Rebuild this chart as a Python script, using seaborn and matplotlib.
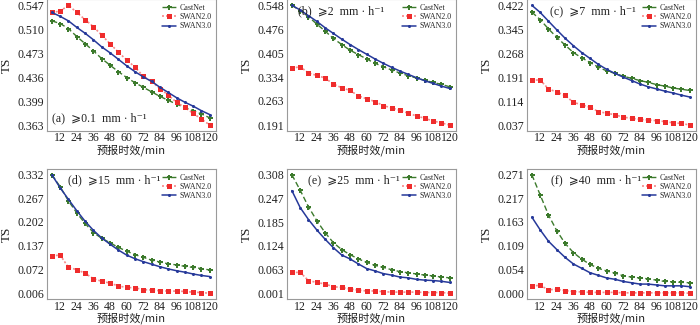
import numpy as np
import pandas as pd
import matplotlib
matplotlib.use("Agg")
import matplotlib.pyplot as plt
import seaborn as sns

# Lead times (min)
lead_time = [6, 12, 18, 24, 30, 36, 42, 48, 54, 60, 66, 72, 78, 84, 90, 96, 102, 108, 114, 120]
x_ticks = [12, 24, 36, 48, 60, 72, 84, 96, 108, 120]

models = ["CastNet", "SWAN2.0", "SWAN3.0"]

# TS scores per threshold
castnet_01 = [0.523, 0.519, 0.511, 0.499, 0.488, 0.477, 0.465, 0.455, 0.445, 0.436,
              0.428, 0.421, 0.414, 0.407, 0.401, 0.395, 0.390, 0.385, 0.380, 0.374]
swan2_01 = [0.536, 0.538, 0.547, 0.536, 0.525, 0.514, 0.501, 0.488, 0.475, 0.463,
            0.452, 0.438, 0.430, 0.419, 0.409, 0.398, 0.390, 0.381, 0.372, 0.363]
swan3_01 = [0.536, 0.530, 0.523, 0.513, 0.504, 0.494, 0.483, 0.474, 0.464, 0.454,
            0.445, 0.437, 0.430, 0.421, 0.413, 0.405, 0.398, 0.392, 0.385, 0.379]

castnet_2 = [0.548, 0.532, 0.514, 0.492, 0.471, 0.449, 0.431, 0.414, 0.401, 0.388,
             0.375, 0.365, 0.355, 0.346, 0.338, 0.331, 0.324, 0.318, 0.312, 0.305]
swan2_2 = [0.360, 0.365, 0.346, 0.339, 0.331, 0.313, 0.302, 0.294, 0.278, 0.269,
           0.261, 0.249, 0.242, 0.235, 0.226, 0.218, 0.211, 0.203, 0.197, 0.191]
swan3_2 = [0.548, 0.534, 0.517, 0.500, 0.481, 0.464, 0.447, 0.431, 0.416, 0.402,
           0.388, 0.375, 0.363, 0.352, 0.342, 0.332, 0.323, 0.315, 0.307, 0.300]

castnet_7 = [0.400, 0.376, 0.346, 0.319, 0.294, 0.270, 0.253, 0.238, 0.223, 0.211,
             0.203, 0.194, 0.187, 0.180, 0.174, 0.167, 0.162, 0.156, 0.152, 0.148]
swan2_7 = [0.181, 0.182, 0.153, 0.143, 0.132, 0.110, 0.102, 0.094, 0.080, 0.075,
           0.070, 0.062, 0.059, 0.055, 0.053, 0.051, 0.048, 0.044, 0.042, 0.037]
swan3_7 = [0.422, 0.399, 0.371, 0.343, 0.316, 0.292, 0.270, 0.251, 0.232, 0.216,
           0.203, 0.191, 0.180, 0.169, 0.160, 0.153, 0.146, 0.140, 0.133, 0.127]

castnet_15 = [0.332, 0.299, 0.260, 0.227, 0.198, 0.173, 0.157, 0.145, 0.132, 0.122,
              0.112, 0.105, 0.097, 0.092, 0.087, 0.084, 0.080, 0.077, 0.074, 0.070]
swan2_15 = [0.109, 0.111, 0.077, 0.071, 0.061, 0.046, 0.039, 0.034, 0.026, 0.022,
            0.021, 0.016, 0.015, 0.013, 0.012, 0.012, 0.011, 0.009, 0.008, 0.006]
swan3_15 = [0.332, 0.296, 0.264, 0.233, 0.204, 0.179, 0.158, 0.141, 0.125, 0.111,
            0.101, 0.093, 0.086, 0.079, 0.073, 0.068, 0.064, 0.059, 0.055, 0.052]

castnet_25 = [0.308, 0.268, 0.225, 0.189, 0.158, 0.132, 0.114, 0.101, 0.090, 0.081,
              0.073, 0.068, 0.062, 0.057, 0.054, 0.051, 0.048, 0.046, 0.043, 0.041]
swan2_25 = [0.055, 0.055, 0.034, 0.029, 0.025, 0.018, 0.016, 0.012, 0.009, 0.007,
            0.007, 0.005, 0.004, 0.004, 0.004, 0.004, 0.003, 0.003, 0.003, 0.001]
swan3_25 = [0.267, 0.223, 0.192, 0.165, 0.141, 0.119, 0.100, 0.090, 0.077, 0.065,
            0.059, 0.052, 0.048, 0.043, 0.041, 0.037, 0.035, 0.034, 0.032, 0.029]

castnet_40 = [0.271, 0.225, 0.179, 0.143, 0.114, 0.093, 0.078, 0.066, 0.057, 0.051,
              0.046, 0.040, 0.037, 0.035, 0.033, 0.030, 0.027, 0.026, 0.025, 0.024]
swan2_40 = [0.017, 0.018, 0.008, 0.009, 0.006, 0.004, 0.003, 0.002, 0.002, 0.002,
            0.002, 0.001, 0.001, 0.001, 0.001, 0.001, 0.001, 0.001, 0.001, 0.000]
swan3_40 = [0.174, 0.145, 0.119, 0.100, 0.082, 0.067, 0.057, 0.047, 0.041, 0.035,
            0.032, 0.027, 0.024, 0.021, 0.021, 0.019, 0.017, 0.017, 0.017, 0.015]

# Y tick labels per panel
yticks_01 = [0.363, 0.399, 0.436, 0.473, 0.510, 0.547]
yticks_2 = [0.191, 0.263, 0.334, 0.405, 0.476, 0.548]
yticks_7 = [0.037, 0.114, 0.191, 0.268, 0.345, 0.422]
yticks_15 = [0.006, 0.072, 0.137, 0.202, 0.267, 0.332]
yticks_25 = [0.001, 0.063, 0.124, 0.185, 0.247, 0.308]
yticks_40 = [0.000, 0.054, 0.109, 0.163, 0.217, 0.271]

panel_titles = ["(a)  ⩾0.1  mm · h⁻¹", "(b)  ⩾2  mm · h⁻¹", "(c)  ⩾7  mm · h⁻¹",
                "(d)  ⩾15  mm · h⁻¹", "(e)  ⩾25  mm · h⁻¹", "(f)  ⩾40  mm · h⁻¹"]

panels = [
    (castnet_01, swan2_01, swan3_01, yticks_01),
    (castnet_2, swan2_2, swan3_2, yticks_2),
    (castnet_7, swan2_7, swan3_7, yticks_7),
    (castnet_15, swan2_15, swan3_15, yticks_15),
    (castnet_25, swan2_25, swan3_25, yticks_25),
    (castnet_40, swan2_40, swan3_40, yticks_40),
]

sns.set_theme(style="white")
serif = ["Liberation Serif", "DejaVu Serif", "DejaVu Sans"]
plt.rcParams["font.family"] = serif

styles = {
    "CastNet": dict(color="#3c7a2c", marker="P", markersize=3.6, linestyle=(0, (4, 2)),
                    linewidth=1.0, markeredgewidth=0),
    "SWAN2.0": dict(color="#ef2c2c", marker="s", markersize=3.6, linestyle=(0, (1.2, 1.2)),
                    linewidth=1.2, markeredgewidth=0),
    "SWAN3.0": dict(color="#26399a", marker="o", markersize=2.2, linestyle="-",
                    linewidth=1.1, markeredgewidth=0),
}

fig = plt.figure(figsize=(7.0, 3.25), dpi=100)

W, H = 700.0, 325.0
col_left = [47, 287, 527]
ax_w = 169
row_top = [-0.7, 168.8]
row_bot = [131.0, 299.2]

title_pos = [(0.03, 0.10), (0.065, 0.955), (0.135, 0.955),
             (0.125, 0.955), (0.124, 0.955), (0.14, 0.955)]

for i, (cn, s2, s3, yt) in enumerate(panels):
    r, c = divmod(i, 3)
    left = col_left[c] / W
    bottom = 1 - row_bot[r] / H
    height = (row_bot[r] - row_top[r]) / H
    ax = fig.add_axes([left, bottom, ax_w / W, height])

    df = pd.DataFrame({
        "lead": lead_time * 3,
        "TS": cn + s2 + s3,
        "model": [m for m in models for _ in lead_time],
    })
    for m in models:
        sub = df[df["model"] == m]
        st = styles[m]
        sns.lineplot(data=sub, x="lead", y="TS", ax=ax, label=m,
                     color=st["color"], marker=st["marker"], markersize=st["markersize"],
                     linestyle=st["linestyle"], linewidth=st["linewidth"],
                     markeredgewidth=st["markeredgewidth"])
        if m == "SWAN2.0":
            ax.lines[-1].set_color("#f58a8a")
            ax.lines[-1].set_markerfacecolor(st["color"])

    rng = yt[-1] - yt[0]
    ax.set_ylim(yt[0] - 0.05 * rng, yt[-1] + 0.05 * rng)
    ax.set_xlim(2.5, 124.5)
    ax.set_yticks(yt)
    ax.set_yticklabels([f"{v:.3f}" for v in yt])
    ax.set_xticks(x_ticks)
    ax.set_xticklabels([str(v) for v in x_ticks])
    ax.tick_params(axis="both", length=0, labelsize=8.6, colors="#222222")
    ax.tick_params(axis="x", pad=1)
    ax.tick_params(axis="y", pad=2)
    for lab in ax.get_xticklabels() + ax.get_yticklabels():
        lab.set_family(serif)

    for sp in ax.spines.values():
        sp.set_color("#9a9a9a")
        sp.set_linewidth(0.8)

    ax.set_ylabel("TS", fontsize=9.5, family=serif, labelpad=3, color="#222222")
    ax.set_xlabel("预报时效/min", fontsize=8.0, family=["Noto Sans CJK SC", "DejaVu Sans"],
                  labelpad=0, color="#222222")

    tx, ty = title_pos[i]
    ax.text(tx, ty, panel_titles[i], transform=ax.transAxes, fontsize=8.6,
            family=serif, va="top" if ty > 0.5 else "center", ha="left", color="#222222")

    leg = ax.legend(loc="upper right", bbox_to_anchor=(1.0, 1.0), frameon=False,
                    fontsize=5.7, handlelength=1.8, handletextpad=0.4,
                    labelspacing=0.15, borderaxespad=0.3, borderpad=0.3)
    for t in leg.get_texts():
        t.set_family(serif)

fig.savefig("out.png", dpi=100)
